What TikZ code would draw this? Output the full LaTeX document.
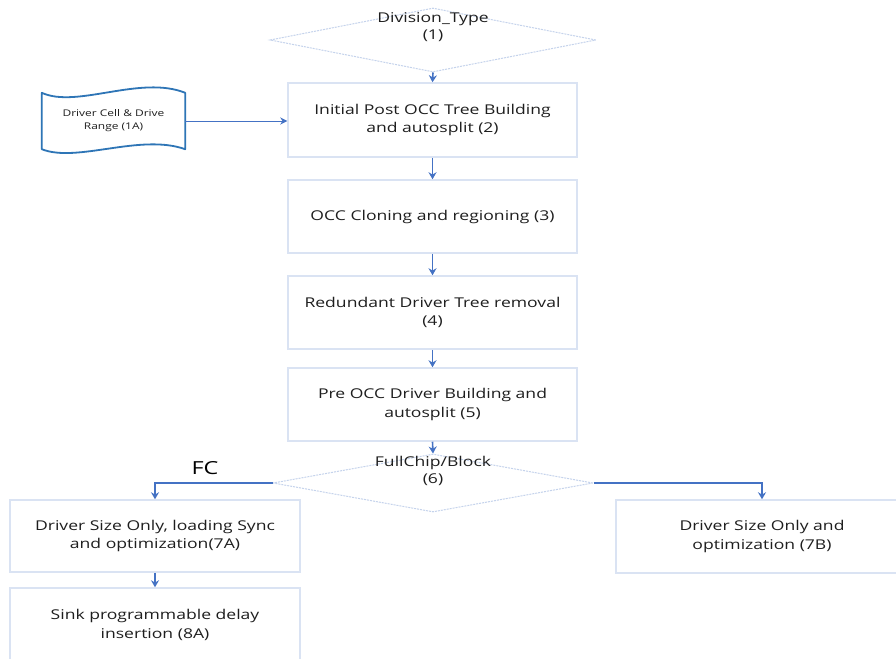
\documentclass[tikz,border=0pt]{standalone}
\usepackage{fontspec}
\setmainfont{Open Sans}[FakeStretch=1.3]
\usetikzlibrary{shapes.geometric,arrows.meta}
\definecolor{boxline}{HTML}{DAE3F3}
\definecolor{dashline}{HTML}{C5D3EC}
\definecolor{flow}{HTML}{4472C4}
\definecolor{tape}{HTML}{2E75B6}
\definecolor{ink}{HTML}{1E1E1E}
\tikzset{
  stepbox/.style={draw=boxline, line width=1.5pt, fill=white, rectangle,
    align=center, text=ink, font=\fontsize{13.5}{18.5}\selectfont, inner sep=0pt},
  decision/.style={draw=dashline, line width=1pt, dash pattern=on 2pt off 1pt,
    diamond, inner sep=0pt},
  decisiontext/.style={align=center, text=ink, font=\fontsize{13.5}{17}\selectfont, inner sep=0pt},
  flowarrow/.style={draw=flow, line width=1.6pt, -{Stealth[length=7pt,width=8pt]}},
  thinarrow/.style={draw=flow, line width=0.8pt, -{Stealth[length=7pt,width=7pt]}},
}
\begin{document}
\begin{tikzpicture}[x=1pt,y=-1pt]
\useasboundingbox[fill=white] (0,0) rectangle (896,658);

% decision (1)
\node[decision, minimum width=326pt, minimum height=64pt] (d1) at (433,40) {};
\node[decisiontext] (d1t) at (433,27) {Division\_Type\\(1)};

% main column
\node[stepbox, minimum width=289pt, minimum height=74pt] (s2) at (432.5,120)
  {Initial Post OCC Tree Building\\and autosplit (2)};
\node[stepbox, minimum width=289pt, minimum height=73pt] (s3) at (432.5,216.5)
  {OCC Cloning and regioning (3)};
\node[stepbox, minimum width=289pt, minimum height=73pt] (s4) at (432.5,312.5)
  {Redundant Driver Tree removal\\(4)};
\node[stepbox, minimum width=289pt, minimum height=73pt] (s5) at (432.5,404.5)
  {Pre OCC Driver Building and\\autosplit (5)};

% decision (6)
\node[decision, minimum width=320pt, minimum height=58pt] (d6) at (433,483) {};
\node[decisiontext] (d6t) at (433,471) {FullChip/Block\\(6)};

% branches
\node[stepbox, minimum width=290pt, minimum height=72pt] (s7a) at (155,536)
  {Driver Size Only, loading Sync\\and optimization(7A)};
\node[stepbox, minimum width=290pt, minimum height=74pt] (s8a) at (155,625)
  {Sink programmable delay\\insertion (8A)};
\node[stepbox, minimum width=292pt, minimum height=73pt] (s7b) at (762,536.5)
  {Driver Size Only and\\optimization (7B)};

% punched-tape input (1A)
\node[minimum width=143pt, minimum height=56pt, inner sep=0pt, align=center,
  text=ink, font=\fontsize{9.2}{13}\selectfont] (in1a) at (113.5,121)
  {Driver Cell \& Drive\\Range (1A)};
\draw[tape, line width=1.8pt, line join=round]
  (in1a.north west) .. controls +(35,16) and +(-45,-18) .. (in1a.north east)
  -- (in1a.south east)
  .. controls +(-45,-16) and +(35,14) .. (in1a.south west) -- cycle;

\node[font=\fontsize{18}{22}\selectfont, text=black] (fc) at (205,468) {FC};

% connectors
\draw[flowarrow] (d1.south) -- (s2.north);
\draw[flowarrow] (s2) -- (s3);
\draw[flowarrow] (s3) -- (s4);
\draw[flowarrow] (s4) -- (s5);
\draw[flowarrow] (s5.south) -- (d6.north);
\draw[flowarrow] (d6.west) -| (s7a.north);
\draw[flowarrow] (d6.east) -| (s7b.north);
\draw[flowarrow] (s7a) -- (s8a);
\draw[thinarrow] (in1a.east) -- (in1a.east -| s2.west);
\end{tikzpicture}
\end{document}
